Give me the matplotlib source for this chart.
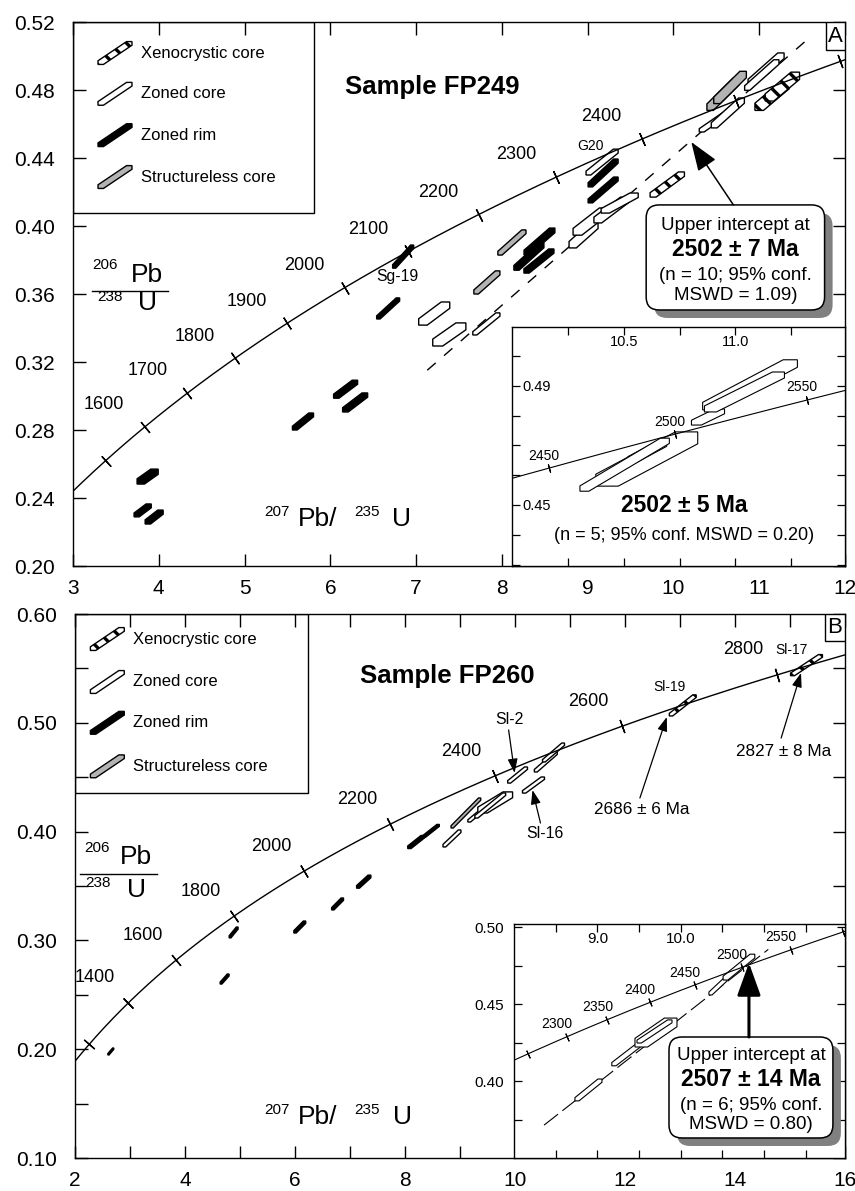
import numpy as np
import matplotlib
matplotlib.use("Agg")
import matplotlib.pyplot as plt
from matplotlib.patches import Polygon, FancyBboxPatch, Rectangle
from matplotlib.transforms import IdentityTransform

plt.rcParams['font.family'] = ['Liberation Sans', 'DejaVu Sans']
plt.rcParams['hatch.linewidth'] = 2.4
plt.rcParams['hatch.color'] = 'k'

# decay constants (per year)
L238 = 1.55125e-10
L235 = 9.8485e-10

# ---- panel A (FP249) error boxes: kind, 207/235, 206/238, half-errors, band width
A_kind = ['r', 'r', 'r', 'r', 'r', 'r', 'r', 'r', 'o', 'o', 'o', 'g', 'g', 'r', 'r', 'r',
          'o', 'o', 'o', 'o', 'r', 'r', 'o', 'x', 'o', 'o', 'g', 'g', 'o', 'o', 'x', 'x']
A_x = [3.870, 3.812, 3.946, 5.681, 6.178, 6.289, 6.674, 6.849, 7.211, 7.387, 7.819, 7.825,
       8.117, 8.438, 8.315, 8.432, 8.952, 9.034, 9.273, 9.373, 9.180, 9.180, 9.168, 9.928,
       10.488, 10.634, 10.580, 10.660, 11.080, 11.030, 11.150, 11.270]
A_y = [0.2526, 0.2327, 0.2288, 0.2850, 0.3040, 0.2962, 0.3515, 0.3820, 0.3485, 0.3362,
       0.3424, 0.3668, 0.3903, 0.3909, 0.3820, 0.3794, 0.3947, 0.4026, 0.4094, 0.4135,
       0.4212, 0.4312, 0.4376, 0.4244, 0.4618, 0.4665, 0.4775, 0.4815, 0.4924, 0.4888,
       0.4765, 0.4820]
A_sx = [0.123, 0.100, 0.105, 0.123, 0.140, 0.146, 0.134, 0.123, 0.181, 0.193, 0.158, 0.152,
        0.164, 0.180, 0.175, 0.175, 0.169, 0.204, 0.200, 0.216, 0.175, 0.175, 0.187, 0.200,
        0.187, 0.193, 0.190, 0.190, 0.210, 0.200, 0.200, 0.200]
A_sy = [0.0044, 0.0038, 0.0041, 0.0050, 0.0053, 0.0056, 0.0062, 0.0068, 0.0068, 0.0068,
        0.0065, 0.0068, 0.0074, 0.0079, 0.0080, 0.0071, 0.0076, 0.0080, 0.0076, 0.0059,
        0.0076, 0.0082, 0.0076, 0.0074, 0.0065, 0.0088, 0.0095, 0.0095, 0.0094, 0.0090,
        0.0085, 0.0085]
A_w = [0.7, 0.6, 0.6, 0.45, 0.45, 0.45, 0.3, 0.3, 0.55, 0.6, 0.3, 0.35, 0.3, 0.35, 0.35, 0.35,
       0.5, 0.5, 0.45, 0.45, 0.3, 0.3, 0.3, 0.35, 0.3, 0.35, 0.4, 0.4, 0.35, 0.3, 0.5, 0.5]

# inset of panel A
Ai_kind = ['o', 'o', 'o', 'o', 'o', 'o']
Ai_x = [10.603, 10.605, 10.504, 10.877, 11.065, 11.040]
Ai_y = [0.4654, 0.4679, 0.4635, 0.4795, 0.4903, 0.4879]
Ai_sx = [0.228, 0.087, 0.200, 0.074, 0.212, 0.179]
Ai_sy = [0.0091, 0.0035, 0.0089, 0.0027, 0.0084, 0.0067]
Ai_w = [0.44, 0.5, 0.2, 0.6, 0.3, 0.3]

# ---- panel B (FP260)
B_kind = ['r', 'r', 'r', 'r', 'r', 'r', 'r', 'r', 'o', 'g', 'o', 'o', 'o', 'o', 'o', 'o',
          'o', 'x', 'x']
B_x = [2.651, 4.720, 4.884, 6.087, 6.774, 7.250, 8.200, 8.474, 8.854, 9.107, 9.306, 9.640,
       9.550, 10.047, 10.336, 10.560, 10.700, 13.050, 15.300]
B_y = [0.1979, 0.2645, 0.3073, 0.3123, 0.3335, 0.3540, 0.3904, 0.4006, 0.3937, 0.4171,
       0.4157, 0.4268, 0.4240, 0.4520, 0.4428, 0.4640, 0.4727, 0.5160, 0.5530]
B_sx = [0.054, 0.081, 0.081, 0.108, 0.108, 0.130, 0.150, 0.150, 0.163, 0.270, 0.163, 0.316,
        0.280, 0.180, 0.200, 0.208, 0.200, 0.244, 0.290]
B_sy = [0.0032, 0.0046, 0.0050, 0.0055, 0.0055, 0.0060, 0.0060, 0.0060, 0.0078, 0.0138,
        0.0069, 0.0097, 0.0115, 0.0074, 0.0074, 0.0092, 0.0087, 0.0097, 0.0097]
B_w = [0.4, 0.4, 0.4, 0.4, 0.4, 0.4, 0.4, 0.3, 0.3, 0.15, 0.3, 0.55, 0.2, 0.3, 0.3, 0.25,
       0.25, 0.25, 0.25]

# inset of panel B
Bi_kind = ['o', 'o', 'o', 'o', 'o', 'o']
Bi_x = [8.893, 9.343, 9.703, 9.685, 10.446, 10.698]
Bi_y = [0.3942, 0.4170, 0.4315, 0.4322, 0.4614, 0.4740]
Bi_sx = [0.162, 0.170, 0.252, 0.210, 0.108, 0.190]
Bi_sy = [0.0071, 0.0071, 0.0094, 0.0075, 0.0055, 0.0084]
Bi_w = [0.3, 0.3, 0.6, 0.25, 0.35, 0.3]

legend_labels = ['Xenocrystic core', 'Zoned core', 'Zoned rim', 'Structureless core']

# upper intercepts (Ma) and discordia slopes
A_upper, A_slope, A_dx = 2502, 0.0439, (7.13, 11.62)
Bi_upper, Bi_slope, Bi_dx = 2507, 0.04244, (8.36, 11.05)

ticks_A = np.arange(1500, 2700, 100)
labels_A = np.arange(1600, 2500, 100)
ticks_B = np.arange(1200, 2900, 200)
labels_B = np.arange(1400, 2900, 200)
ticks_Ai = [2450, 2500, 2550]
ticks_Bi = np.arange(2250, 2650, 50)
labels_Bi = np.arange(2300, 2600, 50)

STY = {'x': dict(fc='white', hatch='\\\\'),
       'o': dict(fc='white'),
       'r': dict(fc='black'),
       'g': dict(fc='#b3b3b3')}


def conc(t):
    t = np.asarray(t, dtype=float) * 1e6
    return np.exp(L235 * t) - 1, np.exp(L238 * t) - 1


def hexagon(cx, cy, sx, sy, w):
    u = np.array([-1, -1, 1 - w, 1, 1, -1 + w])
    v = np.array([-1, -1 + w, 1, 1, 1 - w, -1])
    return np.column_stack([cx + u * sx, cy + v * sy])


def boxes(ax, kind, x, y, sx, sy, w, lw=1.0):
    for k, a, b, c, d, e in zip(kind, x, y, sx, sy, w):
        ax.add_patch(Polygon(hexagon(a, b, c, d, e), closed=True, ec='k', lw=lw,
                             zorder=3, **STY[k]))


def concordia(ax, t0, t1, ticks, labels, ms, fs, off, lw=1.0):
    tt = np.linspace(t0, t1, 400)
    cx, cy = conc(tt)
    ax.plot(cx, cy, color='k', lw=lw, zorder=4)
    for t in ticks:
        p1 = ax.transData.transform(np.column_stack(conc(t)))[0]
        p2 = ax.transData.transform(np.column_stack(conc(t + 1)))[0]
        ang = np.degrees(np.arctan2(p2[1] - p1[1], p2[0] - p1[0]))
        x, y = conc(t)
        ax.plot(x, y, marker=(2, 2, ang), ms=ms, mew=lw, color='k', zorder=4)
    for t in labels:
        ax.annotate(str(t), conc(t), xytext=off, textcoords='offset points',
                    ha='center', va='center', fontsize=fs, zorder=6)


def discordia(ax, age, slope, xr, dashes, lw=1.0):
    ux, uy = conc(age)
    xs = np.array(xr)
    ax.plot(xs, uy + slope * (xs - ux), color='k', lw=lw, dashes=dashes, zorder=1)


def legend(ax, w, h, sx, tx, rows):
    ax.add_patch(Rectangle((0, 1 - h), w, h, transform=ax.transAxes, fc='white',
                           ec='k', lw=1.0, zorder=2.2))
    for k, lab, yy in zip('xorg', legend_labels, rows):
        ax.add_patch(Polygon(hexagon(sx, yy, 0.022, 0.021, 0.32), transform=ax.transAxes,
                             ec='k', lw=1.0, zorder=2.3, **STY[k]))
        ax.text(tx, yy, lab, transform=ax.transAxes, fontsize=12, va='center', zorder=2.3)


def rbox(ax, x0, y0, x1, y1):
    (a, b), (c, d) = ax.transData.transform([(x0, y0), (x1, y1)])
    for off, col, ec in ((8, '#808080', 'none'), (0, 'white', 'k')):
        ax.add_patch(FancyBboxPatch((a + off, b - off), c - a, d - b,
                                    boxstyle='round,pad=0,rounding_size=13',
                                    transform=IdentityTransform(), fc=col, ec=ec,
                                    lw=1.1, zorder=8))


def ratio_labels(ax, ypos, xpos):
    # 206Pb/238U stacked label and 207Pb/235U label
    (sx, sy), (px, py), (lx0, lx1, ly), (dx, dy), (ux, uy) = ypos
    kw = dict(transform=ax.transAxes, ha='center', va='center', zorder=6)
    ax.text(sx, sy, '206', fontsize=11, **kw)
    ax.text(px, py, 'Pb', fontsize=19, **kw)
    ax.plot([lx0, lx1], [ly, ly], color='k', lw=1.0, transform=ax.transAxes, zorder=6)
    ax.text(dx, dy, '238', fontsize=11, **kw)
    ax.text(ux, uy, 'U', fontsize=19, **kw)
    for (x, y), s, f in zip(xpos, ['207', 'Pb/', '235', 'U'], [11, 19, 11, 19]):
        ax.text(x, y, s, fontsize=f, **kw)


def corner_letter(ax, x0, y0, s):
    ax.add_patch(Rectangle((x0, y0), 1 - x0, 1 - y0, transform=ax.transAxes, fc='white',
                           ec='k', lw=1.0, zorder=6))
    ax.text((1 + x0) / 2, (1 + y0) / 2, s, transform=ax.transAxes, fontsize=16,
            ha='center', va='center', zorder=7)


W, H = 855, 1191
fig = plt.figure(figsize=(W / 100, H / 100), dpi=100)


def axes_px(l, t, r, b):
    return fig.add_axes([l / W, 1 - b / H, (r - l) / W, (b - t) / H])


def main_axes(ax, xlim, ylim, xmaj, xlab, xmin, ymaj, ymin):
    ax.set_xlim(xlim)
    ax.set_ylim(ylim)
    ax.set_xticks(xmaj)
    ax.set_xticklabels(xlab)
    ax.set_xticks(xmin, minor=True)
    ax.set_yticks(ymaj)
    ax.set_yticklabels(['%.2f' % v for v in ymaj])
    ax.set_yticks(ymin, minor=True)
    ax.tick_params(which='both', direction='in', length=9, width=1.0, top=True,
                   right=True, labelsize=15)
    ax.tick_params(axis='x', pad=9)
    ax.tick_params(axis='y', pad=13)
    ax.set_axisbelow(False)
    for s in ax.spines.values():
        s.set_linewidth(1.0)


# ================= panel A =================
ax1 = axes_px(73, 22, 845, 566)
main_axes(ax1, (3, 12), (0.20, 0.52), np.arange(3, 13), [str(v) for v in range(3, 13)], [],
          np.round(np.arange(0.20, 0.53, 0.04), 2), [])
legend(ax1, 0.312, 0.351, 0.0544, 0.088, [0.943, 0.868, 0.792, 0.715])
discordia(ax1, A_upper, A_slope, A_dx, (8, 8))
boxes(ax1, A_kind, A_x, A_y, A_sx, A_sy, A_w)
concordia(ax1, 1400, 2640, ticks_A, labels_A, 10, 13, (-29, 16))
ax1.text(0.465, 0.880, 'Sample FP249', transform=ax1.transAxes, fontsize=18.5,
         fontweight='bold', ha='center', va='center')
ratio_labels(ax1, ((0.041, 0.553), (0.096, 0.535), (0.025, 0.123, 0.5055),
                   (0.048, 0.494), (0.096, 0.483)),
             [(0.264, 0.099), (0.317, 0.0864), (0.381, 0.099), (0.426, 0.0864)])
ax1.text(6.78, 0.370, 'Sg-19', fontsize=11.3, ha='center', va='center')
ax1.text(9.03, 0.447, 'G20', fontsize=10, ha='center', va='center')
corner_letter(ax1, 0.975, 0.9485, 'A')

rbox(ax1, 9.682, 0.3506, 11.762, 0.4124)
for yy, s, fw, fs in zip([0.400, 0.3859, 0.3706, 0.3594],
                         ['Upper intercept at', '2502 ± 7 Ma', '(n = 10; 95% conf.',
                          'MSWD = 1.09)'],
                         ['normal', 'bold', 'normal', 'normal'], [13.5, 16.5, 13.5, 13.5]):
    ax1.text(10.722, yy, s, fontsize=fs, fontweight=fw, ha='center', va='center', zorder=9)
ax1.annotate('', xy=(10.208, 0.4494), xytext=(10.699, 0.4124),
             arrowprops=dict(arrowstyle='-|>,head_length=0.9,head_width=0.33',
                             mutation_scale=20, lw=1.1, color='k', shrinkA=0, shrinkB=0),
             zorder=9)

# inset A
axA = axes_px(512, 327, 845, 566)
axA.set_xlim(10.0, 11.49)
axA.set_ylim(0.4295, 0.5097)
xa = [10.25, 10.5, 10.75, 11.0, 11.25]
axA.set_xticks(xa)
axA.set_xticklabels(['', '10.5', '', '11.0', ''])
ya = np.round(np.arange(0.43, 0.505, 0.01), 2)
axA.set_yticks(ya)
axA.set_yticklabels(['%.2f' % v if v in (0.45, 0.49) else '' for v in ya])
axA.tick_params(which='both', direction='in', length=6, width=0.9, top=True, right=True,
                labelsize=10.5)
axA.tick_params(axis='x', labeltop=True, labelbottom=False, pad=-16)
axA.tick_params(axis='y', pad=-28)
for s in axA.spines.values():
    s.set_linewidth(1.0)
boxes(axA, Ai_kind, Ai_x, Ai_y, Ai_sx, Ai_sy, Ai_w, lw=0.8)
concordia(axA, 2420, 2620, ticks_Ai, ticks_Ai, 6, 10, (-4, 9), lw=0.8)
axA.text(10.772, 0.4499, '2502 ± 5 Ma', fontsize=16.5, fontweight='bold', ha='center',
         va='center')
axA.text(10.772, 0.4398, '(n = 5; 95% conf. MSWD = 0.20)', fontsize=13, ha='center',
         va='center')

# ================= panel B =================
ax2 = axes_px(75, 614, 845, 1158)
main_axes(ax2, (2, 16), (0.10, 0.60), np.arange(2, 17, 2), [str(v) for v in range(2, 17, 2)],
          np.arange(3, 16, 2), np.round(np.arange(0.10, 0.61, 0.10), 2),
          np.round(np.arange(0.15, 0.60, 0.10), 2))
legend(ax2, 0.302, 0.329, 0.042, 0.075, [0.954, 0.875, 0.800, 0.720])
boxes(ax2, B_kind, B_x, B_y, B_sx, B_sy, B_w)
concordia(ax2, 1100, 2900, ticks_B, labels_B, 10, 13, (-24, 18))
ax2.text(0.483, 0.886, 'Sample FP260', transform=ax2.transAxes, fontsize=18.5,
         fontweight='bold', ha='center', va='center')
ratio_labels(ax2, ((0.0286, 0.570), (0.079, 0.553), (0.0065, 0.1065, 0.522),
                   (0.030, 0.5055), (0.0805, 0.4926)),
             [(0.262, 0.088), (0.3156, 0.0754), (0.379, 0.088), (0.4247, 0.0754)])
corner_letter(ax2, 0.974, 0.950, 'B')

small = dict(arrowstyle='-|>,head_length=0.85,head_width=0.3', mutation_scale=10, lw=0.9,
             color='k', shrinkA=0, shrinkB=0)
for s, (tx, ty), tail, tip, fs in [
        ('Sl-2', (9.902, 0.5026), (9.884, 0.4934), (9.993, 0.4539), 11.4),
        ('Sl-16', (10.535, 0.3987), (10.463, 0.4079), (10.318, 0.4382), 11.4),
        ('2686 ± 6 Ma', (12.307, 0.4199), (12.271, 0.4309), (12.76, 0.5053), 12.3),
        ('2827 ± 8 Ma', (14.893, 0.4732), (14.839, 0.4860), (15.20, 0.5458), 12.3)]:
    ax2.text(tx, ty, s, fontsize=fs, ha='center', va='center')
    ax2.annotate('', xy=tip, xytext=tail, arrowprops=small)
ax2.text(12.814, 0.5329, 'Sl-19', fontsize=10, ha='center', va='center')
ax2.text(15.02, 0.5669, 'Sl-17', fontsize=10, ha='center', va='center')

# inset B
axB = axes_px(514, 924, 845, 1158)
axB.set_xlim(8.0, 11.97)
axB.set_ylim(0.35, 0.502)
xb = np.arange(8.5, 11.6, 0.5)
axB.set_xticks(xb)
axB.set_xticklabels(['%.1f' % v if v in (9.0, 10.0) else '' for v in xb])
yb = np.round(np.arange(0.375, 0.501, 0.025), 3)
axB.set_yticks(yb)
axB.set_yticklabels(['%.2f' % v if v in (0.40, 0.45, 0.50) else '' for v in yb])
axB.tick_params(which='both', direction='in', length=6, width=0.9, top=True, right=True,
                labelsize=11)
axB.tick_params(axis='x', labeltop=True, labelbottom=False, pad=-16)
axB.tick_params(axis='y', pad=7)
for s in axB.spines.values():
    s.set_linewidth(1.0)
discordia(axB, Bi_upper, Bi_slope, Bi_dx, (16, 5), lw=0.8)
boxes(axB, Bi_kind, Bi_x, Bi_y, Bi_sx, Bi_sy, Bi_w, lw=0.8)
concordia(axB, 2200, 2620, ticks_Bi, labels_Bi, 6, 10, (-7, 9), lw=0.8)

rbox(axB, 9.859, 0.363, 11.825, 0.4286)
for yy, s, fw, fs in zip([0.4169, 0.4007, 0.3838, 0.3715],
                         ['Upper intercept at', '2507 ± 14 Ma', '(n = 6; 95% conf.',
                          'MSWD = 0.80)'],
                         ['normal', 'bold', 'normal', 'normal'], [13.5, 16.5, 13.5, 13.5]):
    axB.text(10.842, yy, s, fontsize=fs, fontweight=fw, ha='center', va='center', zorder=9)
axB.annotate('', xy=(10.818, 0.4767), xytext=(10.818, 0.4286),
             arrowprops=dict(arrowstyle='-|>,head_length=1.0,head_width=0.36',
                             mutation_scale=20, lw=2.2, color='k', shrinkA=0, shrinkB=0),
             zorder=9)

fig.savefig('out.png', dpi=100)
